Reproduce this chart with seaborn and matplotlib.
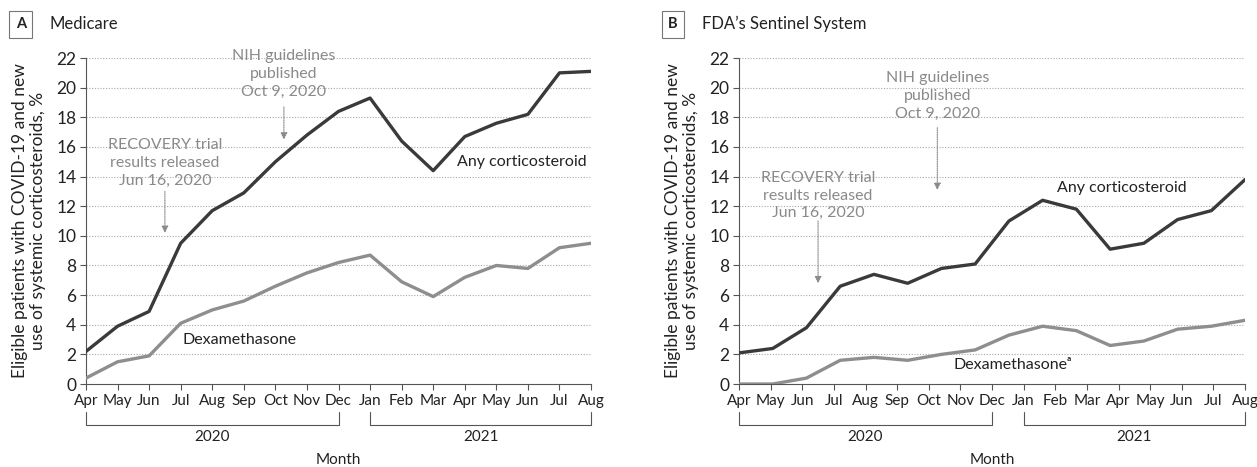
import numpy as np
import pandas as pd
import seaborn as sns
import matplotlib.pyplot as plt
import matplotlib.transforms as mtransforms

sns.set_theme(style='white')
plt.rcParams['font.family'] = ['Lato', 'DejaVu Sans']

# Data
months = ['Apr', 'May', 'Jun', 'Jul', 'Aug', 'Sep', 'Oct', 'Nov', 'Dec',
          'Jan', 'Feb', 'Mar', 'Apr', 'May', 'Jun', 'Jul', 'Aug']
medicare_any = [2.2, 3.9, 4.9, 9.5, 11.7, 12.9, 15.0, 16.8, 18.4,
                19.3, 16.4, 14.4, 16.7, 17.6, 18.2, 21.0, 21.1]
medicare_dexa = [0.4, 1.5, 1.9, 4.1, 5.0, 5.6, 6.6, 7.5, 8.2,
                 8.7, 6.9, 5.9, 7.2, 8.0, 7.8, 9.2, 9.5]
sentinel_any = [2.1, 2.4, 3.8, 6.6, 7.4, 6.8, 7.8, 8.1,
                11.0, 12.4, 11.8, 9.1, 9.5, 11.1, 11.7, 13.8]
sentinel_dexa = [0.0, 0.0, 0.4, 1.6, 1.8, 1.6, 2.0, 2.3,
                 3.3, 3.9, 3.6, 2.6, 2.9, 3.7, 3.9, 4.3]

ANY_COLOR = '#3a3a3a'
DEXA_COLOR = '#8e8e8e'
NOTE_COLOR = '#8a8a8a'
FS = 11

fig = plt.figure(figsize=(12.57, 4.67), dpi=100)
ax_a = fig.add_axes([0.0684, 0.1777, 0.4018, 0.698])
ax_b = fig.add_axes([0.5879, 0.1777, 0.4026, 0.698])


def draw_panel(ax, any_vals, dexa_vals):
    n_ticks = len(months)
    df = pd.DataFrame({
        'x': np.concatenate([np.linspace(0, n_ticks - 1, len(any_vals)),
                             np.linspace(0, n_ticks - 1, len(dexa_vals))]),
        'value': any_vals + dexa_vals,
        'series': ['Any'] * len(any_vals) + ['Dexa'] * len(dexa_vals),
    })
    sns.lineplot(data=df, x='x', y='value', hue='series',
                 palette={'Any': ANY_COLOR, 'Dexa': DEXA_COLOR},
                 linewidth=2.4, legend=False, ax=ax, zorder=3)
    ax.set_xlim(0, n_ticks - 1)
    ax.set_ylim(0, 22)
    ax.set_xticks(range(n_ticks))
    ax.set_xticklabels(months, fontsize=FS, color='#222222')
    ax.set_yticks(range(0, 23, 2))
    ax.set_yticklabels([str(v) for v in range(0, 23, 2)], fontsize=FS + 1.5,
                       color='#222222')
    ax.tick_params(axis='both', direction='out', length=4, width=0.8,
                   color='#555555', pad=3, left=True, bottom=True)
    for side in ['top', 'right']:
        ax.spines[side].set_visible(False)
    for side in ['left', 'bottom']:
        ax.spines[side].set_color('#555555')
        ax.spines[side].set_linewidth(0.8)
    for yv in range(2, 23, 2):
        ax.axhline(yv, linestyle=(0, (1, 1.5)), color='#a8a8a8',
                   linewidth=0.8, zorder=1)
    ax.set_xlabel('')
    ax.set_ylabel('Eligible patients with COVID-19 and new\n'
                  'use of systemic corticosteroids, %',
                  fontsize=FS + 1.5, color='#222222', labelpad=7,
                  linespacing=1.2)

    # year brackets below the month labels
    trans = mtransforms.blended_transform_factory(ax.transData, ax.transAxes)
    for x0, x1, year in [(0, 8, '2020'), (9, 16, '2021')]:
        ax.plot([x0, x0, x1, x1], [-0.086, -0.126, -0.126, -0.086],
                color='#555555', lw=0.8, transform=trans, clip_on=False)
        ax.text((x0 + x1) / 2, -0.163, year, transform=trans, ha='center',
                va='center', fontsize=FS, color='#222222')
    ax.text(0.5, -0.233, 'Month', transform=ax.transAxes, ha='center',
            va='center', fontsize=FS, color='#222222')


def note(ax, x, y_text, y_start, y_end, text):
    ax.text(x, y_text, text, ha='center', va='top', fontsize=FS + 0.5,
            color=NOTE_COLOR, linespacing=1.35, zorder=4)
    ax.annotate('', xy=(x, y_end), xytext=(x, y_start),
                arrowprops=dict(arrowstyle='-|>', color=NOTE_COLOR, lw=0.8,
                                linestyle=(0, (1, 1)), mutation_scale=10,
                                shrinkA=0, shrinkB=0), zorder=4)


def panel_title(x, letter, title):
    fig.text(x, 0.948, letter, ha='left', va='center', fontsize=FS - 0.5,
             fontweight='bold', color='#222222',
             bbox=dict(boxstyle='square,pad=0.45', facecolor='white',
                       edgecolor='#777777', linewidth=0.8))
    fig.text(x + 0.027, 0.948, title, ha='left', va='center',
             fontsize=FS + 1, color='#222222')


# Panel A
draw_panel(ax_a, medicare_any, medicare_dexa)
note(ax_a, 2.5, 16.6, 13.0, 10.2, 'RECOVERY trial\nresults released\nJun 16, 2020')
note(ax_a, 6.27, 22.6, 18.7, 16.5, 'NIH guidelines\npublished\nOct 9, 2020')
ax_a.text(11.75, 15.0, 'Any corticosteroid', ha='left', va='center',
          fontsize=FS + 0.5, color='#222222')
ax_a.text(3.07, 2.97, 'Dexamethasone', ha='left', va='center',
          fontsize=FS + 0.5, color='#222222')

# Panel B
draw_panel(ax_b, sentinel_any, sentinel_dexa)
note(ax_b, 2.5, 14.4, 11.0, 6.8, 'RECOVERY trial\nresults released\nJun 16, 2020')
note(ax_b, 6.27, 21.1, 17.3, 13.1, 'NIH guidelines\npublished\nOct 9, 2020')
ax_b.text(10.06, 13.2, 'Any corticosteroid', ha='left', va='center',
          fontsize=FS + 0.5, color='#222222')
ax_b.text(6.77, 1.28, 'Dexamethasone\u1d43', ha='left', va='center',
          fontsize=FS + 0.5, color='#222222')

panel_title(0.0125, 'A', 'Medicare')
panel_title(0.5315, 'B', "FDA\u2019s Sentinel System")

plt.savefig('out.png', dpi=100)
